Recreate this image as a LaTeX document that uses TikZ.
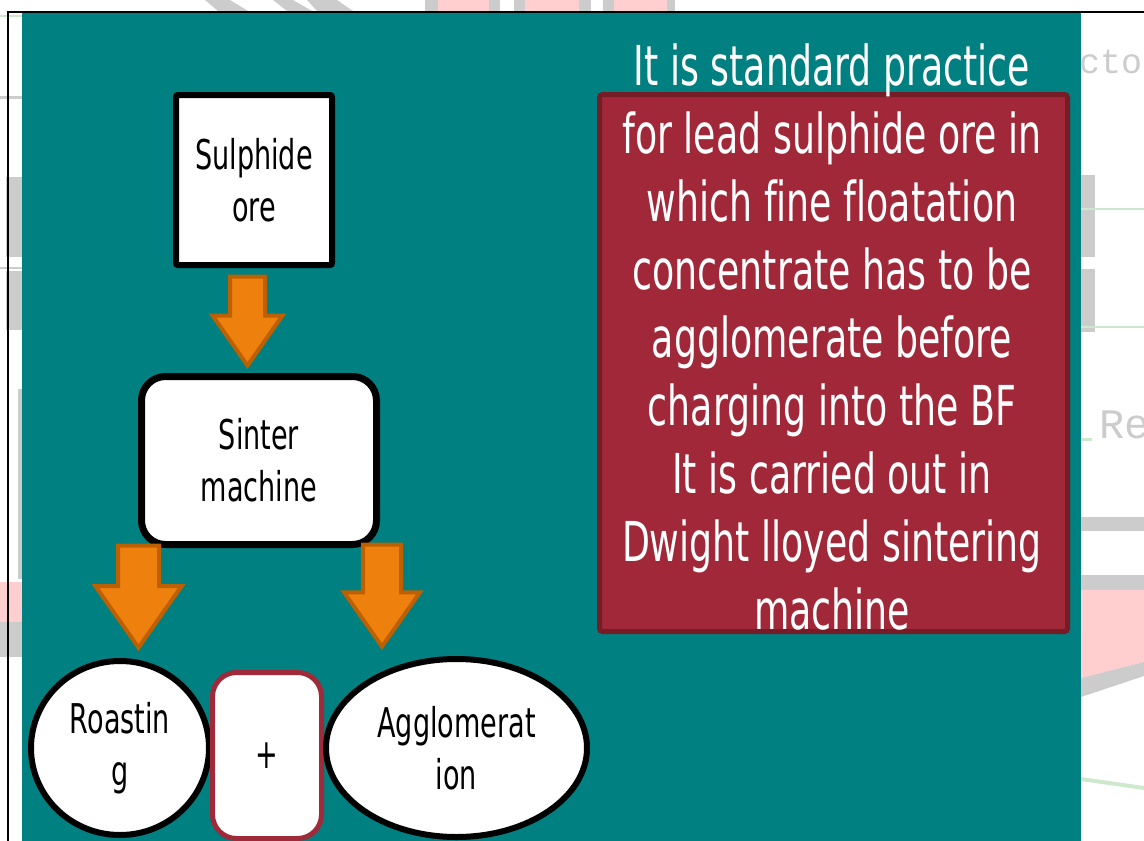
\documentclass[tikz,border=0pt]{standalone}
\usepackage{fontspec}
\setmainfont[FakeStretch=0.66,Ligatures=NoCommon]{DejaVu Sans}
\newfontfamily\ghostfont{Liberation Mono}
\usetikzlibrary{positioning,shapes.geometric,shapes.arrows}

\definecolor{slideteal}{RGB}{0,128,128}
\definecolor{notemaroon}{RGB}{161,40,56}
\definecolor{notemaroondark}{RGB}{118,28,38}
\definecolor{plusmaroon}{RGB}{158,42,58}
\definecolor{arroworange}{RGB}{238,128,14}
\definecolor{arrowedge}{RGB}{190,96,0}
\definecolor{ghostgray}{RGB}{204,204,204}
\definecolor{ghostpink}{RGB}{255,206,206}
\definecolor{ghostgreen}{RGB}{206,232,206}

\begin{document}
\begin{tikzpicture}[x=1pt,y=-1pt,
flowtext/.style={font=\fontsize{41}{52}\selectfont, align=center, text=black},
squarebox/.style={rectangle, draw=black, fill=white, line width=6pt, rounded corners=2pt, inner sep=0pt, flowtext},
roundbox/.style={rectangle, draw=black, fill=white, line width=7pt, rounded corners=24pt, inner sep=0pt, flowtext},
ovalnode/.style={ellipse, draw=black, fill=white, line width=6pt, inner sep=0pt, flowtext},
plusbox/.style={rectangle, draw=plusmaroon, fill=white, line width=5pt, rounded corners=24pt, inner sep=0pt, flowtext},
downarrow/.style={single arrow, shape border rotate=270, draw=arrowedge, fill=arroworange, line width=4pt, single arrow tip angle=70},
notebox/.style={rectangle, draw=notemaroondark, fill=notemaroon, line width=5pt, rounded corners=3pt},
notetext/.style={font=\fontsize{55}{68}\selectfont, align=center, text=white},
ghosttext/.style={text=ghostgray, inner sep=0pt},
]
\useasboundingbox (0,0) rectangle (1144,841);
\fill[white] (0,0) rectangle (1144,841);

%Slide behind
\fill[ghostgray] (205,0) -- (230,0) -- (248,11) -- (218,11) -- cycle;
\fill[ghostgray] (273,0) -- (293,0) -- (312,11) -- (287,11) -- cycle;
\fill[ghostgray] (307,0) -- (337,0) -- (353,11) -- (317,11) -- cycle;
\fill[ghostgray] (425,0) rectangle (675,11);
\fill[white] (500,0) rectangle (514,11);
\fill[white] (591,0) rectangle (603,11);
\fill[ghostpink] (438,0) rectangle (489,11);
\fill[ghostpink] (525,0) rectangle (579,11);
\fill[ghostpink] (614,0) rectangle (667,11);
\fill[ghostgreen] (0,15) rectangle (22,17);
\fill[ghostgray] (0,96) rectangle (22,99);
\fill[ghostgray] (6,177) rectangle (22,257);
\fill[ghostgray] (0,267) rectangle (22,269);
\fill[ghostgray] (6,271) rectangle (22,330);
\fill[ghostgray] (18,389) rectangle (22,579);
\fill[ghostgray] (0,595) rectangle (22,657);
\fill[ghostpink] (0,582) rectangle (22,622);
\node[ghosttext, font=\ghostfont\fontsize{35}{36}\selectfont, anchor=base west] (ghost1) at (1058,73) {acto};
\fill[ghostgray] (1081,175) rectangle (1095,257);
\fill[ghostgreen] (1081,208) rectangle (1144,210);
\fill[ghostgray] (1081,269) rectangle (1095,332);
\fill[ghostgreen] (1081,326) rectangle (1144,328);
\node[ghosttext, font=\ghostfont\fontsize{42}{44}\selectfont, anchor=base west] (ghost2) at (1099,438) {Re};
\fill[ghostgreen] (1081,438) rectangle (1092,441);
\fill[ghostgray] (1081,517) rectangle (1144,531);
\fill[ghostgray] (1081,575) rectangle (1144,590);
\fill[ghostpink] (1081,590) -- (1144,590) -- (1144,662) -- (1081,678) -- cycle;
\fill[ghostgray] (1081,678) -- (1144,662) -- (1144,676) -- (1081,697) -- cycle;
\fill[ghostgreen] (1081,777) -- (1144,786) -- (1144,790) -- (1081,781) -- cycle;

%Slide
\fill[slideteal] (22,13) rectangle (1081,841);
\draw[line width=2pt] (8,841) -- (8,12) -- (1144,12);

%Nodes
\node[squarebox, minimum width=156pt, minimum height=170pt]   (sulphide)  at (254,180)   {Sulphide\\ore};
\node[roundbox, minimum width=235pt, minimum height=168pt]    (sinter)    at (259,460.5) {Sinter\\machine};
\node[ovalnode, minimum width=178pt, minimum height=174pt]    (roasting)  at (120,748)   {Roastin\\g};
\node[plusbox, minimum width=109pt, minimum height=166pt]     (plus)      at (267,755.5) {+};
\node[ovalnode, minimum width=261pt, minimum height=178pt]    (agglo)     at (456.5,748) {Agglomerat\\ion};
\node[notebox, minimum width=468pt, minimum height=537pt]     (note)      at (833.5,363) {};
\node[notetext, anchor=base] (notetxt) at (832,629) {It is standard practice\\for lead sulphide ore in\\which fine floatation\\concentrate has to be\\agglomerate before\\charging into the BF\\It is carried out in\\Dwight lloyed sintering\\machine};

%Arrows
\node[downarrow, inner sep=15.5pt, minimum height=89pt, single arrow head extend=17.5pt] (arrow1) at (247.5,308.5) {};
\node[downarrow, inner sep=18.5pt, minimum height=102pt, single arrow head extend=22.5pt] (arrow2) at (138.5,582) {};
\node[downarrow, inner sep=17pt, minimum height=102pt, single arrow head extend=19pt] (arrow3) at (382,582) {};
\end{tikzpicture}
\end{document}
